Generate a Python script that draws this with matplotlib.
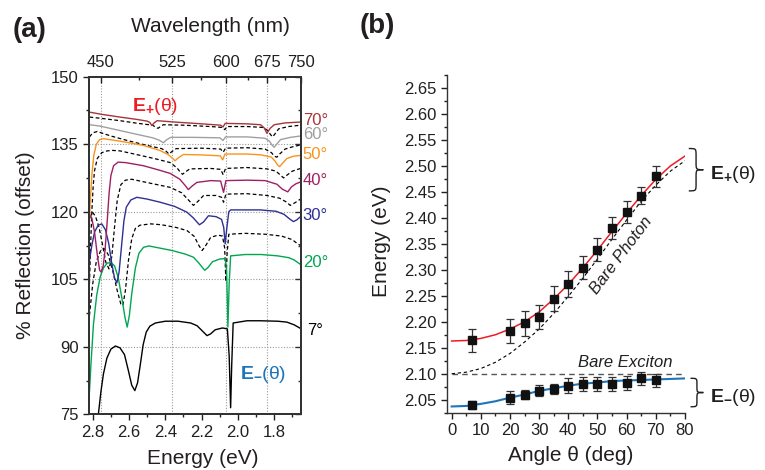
import matplotlib
matplotlib.use("Agg")
import matplotlib.pyplot as plt
import matplotlib.transforms as mtransforms
from matplotlib.path import Path
from matplotlib.patches import PathPatch
from matplotlib.ticker import MultipleLocator, FixedLocator

plt.rcParams['font.family'] = ['Liberation Sans', 'DejaVu Sans']
plt.rcParams['mathtext.fontset'] = 'custom'
plt.rcParams['mathtext.rm'] = 'Liberation Sans'
plt.rcParams['mathtext.bf'] = 'Liberation Sans:bold'
plt.rcParams['mathtext.it'] = 'Liberation Sans:italic'

# ---------------- panel (a): reflection spectra, (energy eV, % reflection) ----------------
spec_07 = [(2.780, 70.0), (2.769, 75.0), (2.755, 80.0), (2.741, 84.0), (2.722, 87.5), (2.700, 89.5),
           (2.675, 90.2), (2.650, 89.8), (2.625, 88.3), (2.605, 85.0), (2.585, 81.5), (2.568, 80.3),
           (2.553, 82.0), (2.538, 86.0), (2.522, 90.5), (2.505, 93.3), (2.485, 94.6), (2.455, 95.3),
           (2.400, 95.7), (2.330, 95.7), (2.260, 95.3), (2.225, 94.7), (2.195, 93.5), (2.170, 92.5),
           (2.150, 92.9), (2.125, 93.8), (2.085, 94.2), (2.058, 94.0), (2.048, 88.0), (2.040, 76.5),
           (2.034, 86.0), (2.026, 95.3), (1.950, 95.8), (1.877, 95.8), (1.780, 95.7), (1.730, 95.5),
           (1.690, 94.9), (1.655, 94.1)]
spec_20 = [(2.818, 80.0), (2.810, 86.0), (2.796, 95.0), (2.778, 101.5), (2.759, 105.5), (2.741, 107.5),
           (2.720, 108.6), (2.700, 108.7), (2.680, 108.0), (2.660, 105.5), (2.640, 101.0), (2.622, 96.5),
           (2.610, 94.4), (2.598, 97.0), (2.585, 101.8), (2.565, 107.5), (2.545, 110.8), (2.520, 112.1),
           (2.490, 112.4), (2.440, 112.0), (2.364, 111.4), (2.290, 110.6), (2.245, 109.9), (2.215, 108.6),
           (2.183, 107.0), (2.165, 107.6), (2.140, 108.9), (2.100, 109.5), (2.070, 109.6), (2.062, 107.0),
           (2.055, 94.4), (2.048, 104.0), (2.040, 110.2), (1.960, 110.5), (1.870, 110.5), (1.780, 110.2),
           (1.720, 109.8), (1.690, 109.3), (1.655, 108.3)]
spec_25 = [(2.818, 97.0), (2.800, 104.0), (2.780, 109.0), (2.755, 111.5), (2.735, 111.8), (2.715, 110.5),
           (2.690, 107.0), (2.665, 102.5), (2.645, 99.5), (2.634, 99.2), (2.620, 102.5), (2.603, 109.2),
           (2.585, 114.0), (2.565, 116.3), (2.540, 117.0), (2.480, 117.3), (2.420, 117.1), (2.340, 116.5),
           (2.280, 115.8), (2.240, 114.5), (2.215, 112.5), (2.197, 111.4), (2.180, 112.3), (2.150, 114.3),
           (2.110, 114.8), (2.085, 114.6), (2.073, 112.0), (2.066, 104.5), (2.059, 111.0), (2.050, 115.0),
           (1.960, 115.2), (1.850, 115.0), (1.760, 114.6), (1.700, 113.8), (1.675, 113.0), (1.655, 112.5)]
spec_30 = [(2.818, 109.2), (2.805, 112.5), (2.790, 115.5), (2.770, 117.0), (2.750, 117.3), (2.730, 116.0),
           (2.712, 113.0), (2.695, 108.5), (2.680, 105.3), (2.667, 104.2), (2.655, 106.5), (2.640, 112.9),
           (2.628, 118.0), (2.615, 121.0), (2.590, 122.6), (2.557, 123.2), (2.500, 122.8), (2.428, 122.1),
           (2.350, 121.2), (2.281, 119.9), (2.245, 118.6), (2.212, 117.1), (2.190, 117.7), (2.162, 119.1),
           (2.120, 118.9), (2.090, 118.3), (2.078, 116.5), (2.070, 112.9), (2.062, 116.0), (2.050, 120.0),
           (2.040, 120.4), (1.877, 120.4), (1.790, 120.1), (1.745, 119.4), (1.715, 118.4), (1.694, 117.8),
           (1.675, 118.2), (1.655, 118.9)]
spec_35 = [(2.818, 118.5), (2.800, 119.8), (2.785, 119.0), (2.765, 116.5), (2.745, 112.5), (2.728, 108.8),
           (2.710, 107.3), (2.695, 110.0), (2.680, 116.5), (2.665, 122.5), (2.645, 126.0), (2.620, 127.0),
           (2.585, 127.2), (2.480, 126.3), (2.373, 125.4), (2.310, 124.2), (2.270, 122.5), (2.245, 121.4),
           (2.220, 122.3), (2.189, 123.6), (2.120, 123.6), (2.090, 123.2), (2.079, 122.1), (2.066, 123.9),
           (1.950, 124.0), (1.840, 123.6), (1.770, 123.0), (1.735, 122.2), (1.711, 121.4), (1.685, 122.0),
           (1.655, 122.8)]
spec_40 = [(2.818, 119.5), (2.805, 118.5), (2.790, 115.5), (2.775, 110.5), (2.762, 107.0), (2.754, 106.6),
           (2.742, 108.0), (2.732, 111.5), (2.720, 118.0), (2.710, 124.0), (2.700, 128.0), (2.685, 130.2),
           (2.660, 131.0), (2.620, 130.9), (2.520, 130.2), (2.440, 129.3), (2.373, 128.5), (2.320, 127.2),
           (2.290, 125.8), (2.273, 124.9), (2.255, 125.6), (2.226, 126.5), (2.150, 126.9), (2.095, 126.8),
           (2.079, 124.3), (2.066, 126.9), (1.950, 127.0), (1.850, 126.9), (1.785, 126.1), (1.755, 125.0),
           (1.725, 124.4), (1.705, 125.5), (1.680, 126.2), (1.655, 126.6)]
spec_45 = [(2.818, 104.0), (2.812, 112.0), (2.805, 120.0), (2.797, 126.0), (2.790, 129.1), (2.775, 131.8),
           (2.750, 133.1), (2.720, 133.5), (2.690, 133.6), (2.650, 133.5), (2.560, 132.7), (2.450, 131.7),
           (2.373, 130.9), (2.335, 129.7), (2.318, 128.8), (2.305, 128.3), (2.290, 128.8), (2.265, 129.5),
           (2.150, 129.6), (2.095, 129.4), (2.081, 128.2), (2.068, 129.6), (1.950, 129.8), (1.840, 129.5),
           (1.790, 129.0), (1.765, 128.1), (1.748, 127.5), (1.730, 128.1), (1.700, 129.0), (1.655, 129.6)]
spec_50 = [(2.818, 118.5), (2.812, 123.5), (2.804, 128.5), (2.794, 132.5), (2.780, 135.0), (2.762, 136.0),
           (2.740, 136.2), (2.690, 135.9), (2.612, 135.4), (2.520, 134.7), (2.430, 133.6), (2.385, 132.7),
           (2.362, 131.9), (2.346, 131.3), (2.330, 131.9), (2.300, 132.7), (2.200, 132.6), (2.097, 132.4),
           (2.084, 131.5), (2.071, 132.8), (1.950, 132.8), (1.870, 132.6), (1.815, 132.1), (1.795, 131.2),
           (1.780, 130.3), (1.770, 130.0), (1.755, 130.7), (1.730, 131.8), (1.695, 132.3), (1.655, 132.5)]
spec_55 = [(2.818, 136.6), (2.800, 137.5), (2.775, 137.8), (2.700, 136.8), (2.600, 135.7), (2.500, 134.7),
           (2.420, 134.0), (2.395, 133.4), (2.380, 132.8), (2.365, 133.3), (2.340, 134.0), (2.200, 134.1),
           (2.095, 133.9), (2.081, 133.2), (2.068, 134.1), (1.950, 134.2), (1.850, 133.9), (1.815, 133.1),
           (1.798, 132.3), (1.785, 132.1), (1.770, 132.8), (1.740, 133.9), (1.690, 134.5), (1.655, 134.8)]
spec_60 = [(2.818, 139.3), (2.760, 139.0), (2.660, 138.1), (2.560, 137.2), (2.470, 136.4), (2.435, 135.9),
           (2.410, 135.3), (2.395, 135.9), (2.370, 136.5), (2.250, 136.5), (2.100, 136.4), (2.082, 135.8),
           (2.068, 136.6), (1.950, 136.6), (1.850, 136.3), (1.825, 135.6), (1.810, 134.7), (1.800, 134.3),
           (1.788, 134.9), (1.765, 136.0), (1.710, 136.5), (1.655, 136.8)]
spec_65 = [(2.818, 141.0), (2.750, 140.7), (2.650, 140.2), (2.550, 139.6), (2.470, 139.2), (2.455, 138.8),
           (2.440, 138.5), (2.427, 138.9), (2.410, 139.3), (2.300, 139.2), (2.150, 138.9), (2.085, 138.7),
           (2.072, 138.2), (2.060, 138.9), (1.950, 138.9), (1.860, 138.7), (1.835, 138.0), (1.820, 137.1),
           (1.808, 136.6), (1.795, 137.3), (1.775, 138.4), (1.720, 138.9), (1.655, 139.2)]
spec_70 = [(2.818, 142.1), (2.750, 141.6), (2.650, 141.0), (2.560, 140.5), (2.500, 140.1), (2.485, 139.8),
           (2.474, 139.1), (2.462, 139.7), (2.445, 140.2), (2.350, 139.9), (2.200, 139.5), (2.095, 139.2),
           (2.082, 138.8), (2.070, 139.6), (1.950, 139.5), (1.875, 139.3), (1.855, 138.6), (1.840, 137.4),
           (1.822, 138.5), (1.800, 139.3), (1.740, 139.7), (1.655, 139.9)]

solid_spectra = [(spec_07, '#000000', '7°', 93.7), (spec_20, '#00a651', '20°', 108.7),
                 (spec_30, '#2e3192', '30°', 119.1), (spec_40, '#9e1f63', '40°', 126.9),
                 (spec_50, '#f7941d', '50°', 132.8), (spec_60, '#a0a0a0', '60°', 137.2),
                 (spec_70, '#a8353a', '70°', 140.3)]
dashed_spectra = [spec_25, spec_35, spec_45, spec_55, spec_65]

wl_major = [450, 525, 600, 675, 750]
wl_minor = [487.5, 562.5, 637.5, 712.5]

# ---------------- panel (b): dispersion ----------------
angles = [7, 20, 25, 30, 35, 40, 45, 50, 55, 60, 65, 70]
e_upper = [2.164, 2.183, 2.197, 2.210, 2.244, 2.273, 2.304, 2.339, 2.380, 2.412, 2.443, 2.480]
e_upper_err = [0.022, 0.023, 0.024, 0.023, 0.024, 0.025, 0.022, 0.022, 0.021, 0.021, 0.017, 0.020]
e_lower = [2.040, 2.054, 2.060, 2.067, 2.071, 2.077, 2.080, 2.080, 2.080, 2.083, 2.091, 2.087]
e_lower_err = [0.0075, 0.012, 0.0095, 0.0105, 0.010, 0.0145, 0.014, 0.013, 0.014, 0.0135, 0.012, 0.013]

fit_angle = [0, 5, 10, 15, 20, 25, 30, 35, 40, 45, 50, 55, 60, 65, 70, 75, 80]
fit_upper = [2.163, 2.164, 2.168, 2.175, 2.186, 2.200, 2.219, 2.244, 2.272, 2.304, 2.338, 2.374,
             2.409, 2.443, 2.474, 2.500, 2.519]
fit_lower = [2.037, 2.038, 2.042, 2.047, 2.054, 2.060, 2.067, 2.072, 2.077, 2.081, 2.083, 2.086,
             2.087, 2.088, 2.089, 2.090, 2.091]
bare_photon = [2.100, 2.103, 2.110, 2.122, 2.139, 2.161, 2.186, 2.216, 2.249, 2.284, 2.321, 2.359,
               2.396, 2.432, 2.463, 2.490, 2.510]
bare_exciton = 2.10

TXT = '#231f20'

fig = plt.figure(figsize=(7.65, 4.70), dpi=100)

# ======================= (a) =======================
ax1 = fig.add_axes([0.1167, 0.1181, 0.2768, 0.7191])
ax1.set_xlim(2.819, 1.652)
ax1.set_ylim(75, 150)

for e_wl in wl_major[:-1]:
    ax1.axvline(1239.84 / e_wl, color='#9a9a9a', lw=0.8, ls=(0, (1, 1.5)), zorder=0)
for yg in [90, 105, 120, 135]:
    ax1.axhline(yg, color='#9a9a9a', lw=0.8, ls=(0, (1, 1.5)), zorder=0)

for spec in dashed_spectra:
    ax1.plot([p[0] for p in spec], [p[1] for p in spec], color='black', lw=0.9,
             ls=(0, (3, 2)), zorder=2)
for spec, col, lab, ylab in solid_spectra:
    ax1.plot([p[0] for p in spec], [p[1] for p in spec], color=col, lw=1.0, zorder=3)
    xoff = 1.03 if lab == '7°' else 1.008
    ax1.text(xoff, ylab, lab, color=col, fontsize=12, va='center', ha='left',
             transform=mtransforms.blended_transform_factory(ax1.transAxes, ax1.transData))

ax1.text(2.585, 142.4, r'$\mathbf{E_{+}}$(θ)', color='#ed1c24', fontsize=14, ha='left', va='baseline')
ax1.text(1.988, 82.8, r'$\mathbf{E_{-}}$(θ)', color='#1c75bc', fontsize=14, ha='left', va='baseline')

ax1.xaxis.set_major_locator(MultipleLocator(0.2))
ax1.xaxis.set_minor_locator(MultipleLocator(0.1))
ax1.yaxis.set_major_locator(MultipleLocator(15))
ax1.yaxis.set_minor_locator(MultipleLocator(7.5))
ax1.xaxis.set_major_formatter(matplotlib.ticker.FormatStrFormatter('%.1f'))
ax1.tick_params(axis='both', which='both', direction='out', labelsize=12, colors=TXT, width=1)
ax1.tick_params(axis='both', which='major', length=4)
ax1.tick_params(axis='both', which='minor', length=2.5)
for sp in ax1.spines.values():
    sp.set_linewidth(1.3)
    sp.set_color('#333333')

ax_r = ax1.twinx()
ax_r.set_ylim(75, 150)
ax_r.yaxis.set_major_locator(MultipleLocator(15))
ax_r.yaxis.set_minor_locator(MultipleLocator(7.5))
ax_r.tick_params(axis='y', which='both', direction='in', labelright=False, width=1, colors='#333333')
ax_r.tick_params(axis='y', which='major', length=4)
ax_r.tick_params(axis='y', which='minor', length=2.5)

ax_t = ax1.twiny()
ax_t.set_xlim(ax1.get_xlim())
ax_t.xaxis.set_major_locator(FixedLocator([1239.84 / w for w in wl_major]))
ax_t.xaxis.set_minor_locator(FixedLocator([1239.84 / w for w in wl_minor]))
ax_t.set_xticklabels([str(w) for w in wl_major])
ax_t.tick_params(axis='x', which='both', direction='in', labelsize=12, colors=TXT, width=1, pad=5)
ax_t.tick_params(axis='x', which='major', length=4)
ax_t.tick_params(axis='x', which='minor', length=2.5)
for a in (ax_r, ax_t):
    for sp in a.spines.values():
        sp.set_linewidth(1.3)
        sp.set_color('#333333')

fig.text(0.2756, 0.9426, 'Wavelength (nm)', fontsize=15, ha='center', va='center', color=TXT)
fig.text(0.2654, 0.0255, 'Energy (eV)', fontsize=15, ha='center', va='center', color=TXT)
fig.text(0.0327, 0.479, '% Reflection (offset)', fontsize=15, ha='center', va='center',
         rotation=90, color=TXT)
fig.text(0.017, 0.936, '(a)', fontsize=20, fontweight='bold', ha='left', va='center', color=TXT)

# ======================= (b) =======================
ax2 = fig.add_axes([0.5839, 0.1219, 0.3115, 0.7185])
ax2.set_xlim(-1.7, 80)
ax2.set_ylim(2.025, 2.675)

ax2.plot(fit_angle, [bare_exciton] * len(fit_angle), color='#555555', lw=1.0, ls=(0, (4, 3)), zorder=1)
ax2.plot(fit_angle, bare_photon, color='black', lw=0.8, ls=(0, (3, 2.5)), zorder=1)
ax2.plot(fit_angle, fit_upper, color='#ed1c24', lw=1.1, zorder=2)
ax2.plot(fit_angle, fit_lower, color='#1c75bc', lw=1.5, zorder=2)

ax2.errorbar(angles, e_upper, yerr=e_upper_err, fmt='s', color='#111111', ms=6, capsize=3,
             elinewidth=0.9, capthick=0.9, ecolor='#333333', zorder=4)
ax2.errorbar(angles, e_lower, yerr=e_lower_err, fmt='s', color='#111111', ms=6, capsize=3,
             elinewidth=0.9, capthick=0.9, ecolor='#333333', zorder=4)

ax2.text(58.3, 2.328, 'Bare Photon', fontsize=12, style='italic', rotation=53, color=TXT,
         ha='center', va='center', rotation_mode='anchor')
ax2.text(43.4, 2.1135, 'Bare Exciton', fontsize=12, style='italic', color=TXT, ha='left', va='baseline')


def brace(ax, x0, x1, y0, y1, d):
    xm = (x0 + x1) / 2
    yc = (y0 + y1) / 2
    verts = [(x0, y1), (xm, y1), (xm, y1), (xm, y1 - d),
             (xm, yc + d),
             (xm, yc), (xm, yc), (x1, yc),
             (xm, yc), (xm, yc), (xm, yc - d),
             (xm, y0 + d),
             (xm, y0), (xm, y0), (x0, y0)]
    codes = [Path.MOVETO, Path.CURVE4, Path.CURVE4, Path.CURVE4, Path.LINETO,
             Path.CURVE4, Path.CURVE4, Path.CURVE4, Path.CURVE4, Path.CURVE4, Path.CURVE4,
             Path.LINETO, Path.CURVE4, Path.CURVE4, Path.CURVE4]
    ax.add_patch(PathPatch(Path(verts, codes), fill=False, lw=1.0, edgecolor=TXT, clip_on=False))


brace(ax2, 81.3, 86.3, 2.452, 2.5335, 0.014)
brace(ax2, 81.9, 86.3, 2.0365, 2.0912, 0.011)
ax2.text(88.6, 2.4758, r'$\mathbf{E_{+}}$(θ)', fontsize=14, color=TXT, ha='left', va='baseline')
ax2.text(88.6, 2.0462, r'$\mathbf{E_{-}}$(θ)', fontsize=14, color=TXT, ha='left', va='baseline')

ax2.xaxis.set_major_locator(MultipleLocator(10))
ax2.xaxis.set_minor_locator(MultipleLocator(5))
ax2.set_yticks([2.05 + 0.05 * i for i in range(13)])
ax2.yaxis.set_minor_locator(MultipleLocator(0.025))
ax2.yaxis.set_major_formatter(matplotlib.ticker.FormatStrFormatter('%.2f'))
ax2.tick_params(axis='both', which='both', direction='out', labelsize=12, colors=TXT, width=1)
ax2.tick_params(axis='both', which='major', length=4)
ax2.tick_params(axis='both', which='minor', length=2.5)
ax2.spines['top'].set_visible(False)
ax2.spines['right'].set_visible(False)
for s in ('left', 'bottom'):
    ax2.spines[s].set_linewidth(1.0)
    ax2.spines[s].set_color('#333333')

fig.text(0.4993, 0.487, 'Energy (eV)', fontsize=15, ha='center', va='center', rotation=90, color=TXT)
fig.text(0.7464, 0.0298, 'Angle θ (deg)', fontsize=15, ha='center', va='center', color=TXT)
fig.text(0.4706, 0.945, '(b)', fontsize=20, fontweight='bold', ha='left', va='center', color=TXT)

fig.savefig('out.png', dpi=100)
